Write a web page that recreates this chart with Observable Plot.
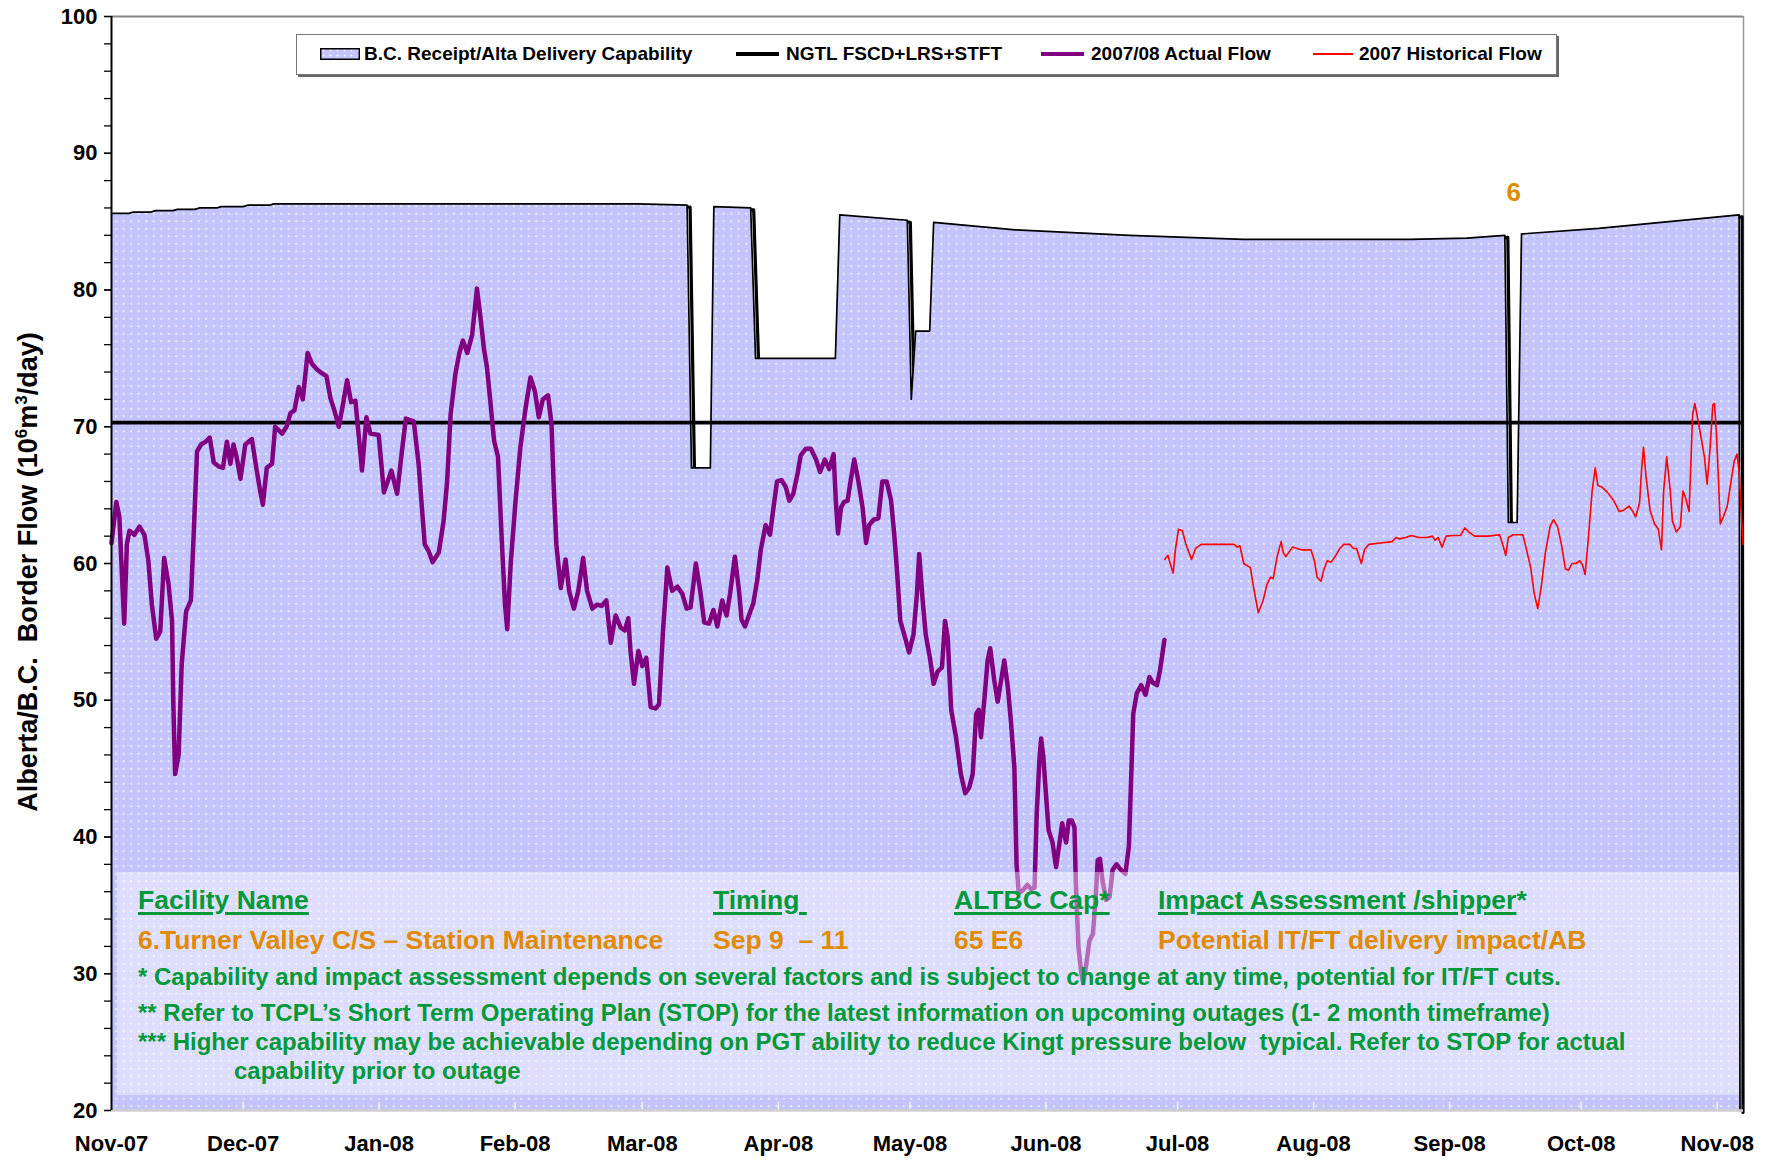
<!DOCTYPE html>
<html><head><meta charset="utf-8">
<script src="https://cdn.jsdelivr.net/npm/d3@7"></script>
<script src="https://cdn.jsdelivr.net/npm/@observablehq/plot@0.6"></script>
<style>
body{margin:0;background:#fff;font-family:"Liberation Sans",Arial,sans-serif;font-weight:bold;}
#wrap{position:relative;width:1771px;height:1160px;overflow:hidden;}
#wrap svg{position:absolute;left:0;top:0;}
.abs{position:absolute;white-space:pre;}
.legend{position:absolute;left:296px;top:34px;width:1259px;height:39px;border:1.5px solid #777;background:#fff;box-shadow:2px 2px 0 #666;}
.lt{position:absolute;font-size:19px;line-height:20px;top:44px;color:#000;}
.sw{position:absolute;}
.note{position:absolute;left:117px;top:872px;width:1622px;height:223px;background:rgba(255,255,255,0.42);}
.g{color:#00993a;}
.o{color:#e08a00;}
.u{text-decoration:underline;text-decoration-thickness:3px;text-underline-offset:3px;}
</style></head>
<body><div id="wrap"></div>
<script>
// ---- data (days since 2007-11-01, value in 10^6 m3/day) ----
const capability = [[0,85.6],[4,85.6],[5,85.7],[9,85.7],[10,85.8],[14,85.8],[15,85.9],[19,85.9],[20,86.0],[24,86.0],[25,86.1],[30,86.1],[31,86.2],[36,86.2],[37,86.3],[120,86.3],[131.2,86.2],[132.2,67],[136.5,67],[137.3,86.1],[145.7,86.0],[146.8,75],[165,75],[166,85.5],[181.4,85.1],[182.3,72],[183.3,77],[186.5,77],[187.4,84.95],[206,84.4],[232,84],[258,83.7],[296,83.7],[309,83.8],[317.6,84],[318.4,63],[320.4,63],[321.4,84.1],[339,84.5],[355,85],[371,85.5],[371.2,20]];
const ngtlCapacity = [70.3];
const actualFlow = [[0,61.5],[1.1,64.5],[1.8,63.4],[2.4,59],[2.9,55.6],[3.5,61.4],[4.1,62.4],[5.2,62.1],[6.4,62.7],[7.5,62.1],[8.4,60.2],[9.2,57],[10.2,54.5],[11.1,55],[12,60.4],[13,58.5],[13.8,55.8],[14.1,49.7],[14.5,44.6],[15.3,46],[16,52.6],[17,56.5],[18.1,57.3],[18.7,61.9],[19.5,68.2],[20.4,68.7],[21.4,68.9],[22.4,69.2],[23.3,67.4],[24.4,67.1],[25.4,67],[26.3,68.9],[27.1,67.3],[27.8,68.7],[28.5,67.8],[29.4,66.2],[30.5,68.7],[32,69.1],[33,67],[33.9,65.3],[34.5,64.3],[35.4,67],[36.6,67.3],[37.3,70],[38.9,69.5],[39.9,70],[40.8,71],[41.7,71.2],[42.7,72.9],[43.6,72],[44.7,75.4],[45.7,74.6],[46.8,74.2],[48,73.9],[49,73.7],[49.9,72.1],[50.8,71.2],[51.8,70],[52.8,71.7],[53.7,73.4],[54.6,71.8],[55.6,71.9],[56.4,69.2],[57.1,66.8],[58.1,70.7],[59,69.5],[60.9,69.4],[62.1,65.2],[63.8,66.8],[65.1,65.1],[66.2,68.2],[67.1,70.6],[68.9,70.4],[70,67.3],[70.7,64.3],[71.4,61.4],[72.3,60.9],[73.2,60.1],[74.6,60.8],[75.7,63.1],[76.5,66],[77.3,70.9],[78.4,73.9],[79.3,75.4],[80.1,76.3],[81.1,75.4],[82.2,76.7],[83.3,80.1],[84.1,78],[84.9,75.7],[85.6,74.3],[86.4,71.7],[87.2,69],[88.1,67.8],[88.9,62.1],[89.7,57],[90.2,55.2],[91,60],[92.1,64.6],[93.2,68.5],[94.4,71.4],[95.5,73.6],[96.5,72.6],[97.4,70.7],[98.3,72],[99.5,72.3],[100.3,70.2],[100.8,65.6],[101.4,61.4],[102.4,58.2],[103.5,60.3],[104.3,58],[105.4,56.7],[106.4,58],[107.5,60.4],[108.4,58],[109.6,56.7],[110.7,57],[111.7,56.9],[112.8,57.3],[113.8,54.2],[114.9,56.2],[116.1,55.3],[117,55.1],[117.8,56],[118.3,53.6],[119.1,51.2],[120.1,53.6],[121,52.5],[121.9,53.1],[122.9,49.5],[124,49.4],[124.8,49.7],[125.7,55],[126.7,59.7],[127.8,58],[129,58.3],[130.1,57.8],[131.1,56.7],[132,56.8],[133.2,60],[134.2,58],[135.1,55.7],[136.2,55.6],[137.2,56.6],[138.1,55.4],[139.2,57.3],[140.2,56.2],[141,57.8],[142.1,60.5],[143.1,57.8],[143.6,55.9],[144.4,55.4],[145.3,56.2],[146.3,57.1],[147.2,58.8],[148,61],[149.1,62.8],[150.1,62.1],[150.9,64.1],[151.7,66],[152.7,66.1],[153.7,65.6],[154.5,64.6],[155.4,65.1],[156.4,66.6],[157.1,67.9],[158.3,68.4],[159.4,68.4],[160.6,67.6],[161.5,66.7],[162.6,67.6],[163.6,66.9],[164.6,68],[165.1,64.6],[165.6,62.2],[166.3,64.1],[167,64.5],[167.8,64.6],[168.5,66.1],[169.3,67.6],[170.2,66.1],[171.2,64.1],[172,61.5],[172.7,62.8],[173.7,63.2],[174.8,63.3],[175.7,66],[176.7,66],[177.7,64.6],[178.4,62.2],[179,59.7],[179.8,55.8],[180.7,54.8],[181.8,53.5],[182.8,54.8],[183.6,57.8],[184.1,60.7],[184.9,57.3],[185.6,54.8],[186.6,53],[187.4,51.2],[188.3,52.1],[189.3,52.4],[190,55.8],[190.6,54.6],[191.4,49.3],[192.5,47.3],[193.6,44.6],[194.6,43.2],[195.5,43.6],[196.3,44.6],[197.1,49],[197.7,49.3],[198.2,47.3],[199,50.2],[199.7,52.9],[200.3,53.8],[201.2,51.5],[202,49.9],[202.8,51.5],[203.5,52.9],[204.3,51],[205,48.5],[205.8,45.1],[206.3,38],[206.8,35.9],[207.7,36.1],[208.8,36.5],[209.6,36.2],[210.4,36.3],[210.9,41.7],[211.5,45.6],[211.9,47.2],[212.4,45.9],[212.9,43.6],[213.6,40.5],[214.5,39.6],[215.3,37.8],[216.1,39.6],[216.7,41],[217.6,39.6],[218.2,41.2],[218.9,41.2],[219.5,40.7],[219.8,36.8],[220.4,32],[221,30.2],[221.5,29.3],[222.2,30.7],[222.9,32.4],[223.7,32.9],[224.3,35.4],[224.8,38.3],[225.3,38.4],[225.9,36.8],[226.7,35.4],[227.5,35.6],[228.2,37.6],[229.1,38],[230.1,37.6],[231.1,37.3],[231.9,39.3],[232.4,44.1],[232.9,49],[233.7,50.5],[234.7,51.1],[235.7,50.4],[236.6,51.7],[237.3,51.3],[238.3,51.1],[239,52.2],[240,54.4]];
const historicalFlow = [[240.1,60.3],[240.8,60.6],[241.4,59.9],[242,59.3],[242.5,61],[243.2,62.5],[244.1,62.4],[244.9,61.4],[246.2,60.3],[247.1,61.1],[248.4,61.4],[250.6,61.4],[253.3,61.4],[255.9,61.4],[256.6,61.2],[257.2,61.3],[258.1,60],[259.6,59.7],[260.3,58.3],[261.4,56.4],[262.5,57.3],[263.4,58.5],[264.2,59],[264.8,58.9],[265.7,60.5],[266.6,61.6],[267.1,60.8],[267.7,60.5],[269.2,61.2],[271.2,61],[273.4,61],[274.2,60.2],[274.8,59],[275.7,58.7],[276.3,59.5],[277.1,60.2],[278,60.1],[278.9,60.5],[280,61.1],[280.9,61.4],[282.2,61.4],[283.1,61.1],[283.8,61.1],[284.4,60.5],[284.9,60],[285.6,61],[286.6,61.4],[289.3,61.5],[291.9,61.6],[292.8,61.9],[293.6,61.8],[295,61.9],[296.3,62.05],[298,61.9],[299.8,61.9],[301.1,62],[301.7,61.7],[302.4,61.9],[303.3,61.2],[304.2,62],[305.9,62.05],[307.5,62.05],[308.5,62.6],[309.4,62.3],[310.7,62],[313.8,62],[316.4,62.1],[317.1,61.4],[317.8,60.6],[318.4,61.9],[319.5,62.1],[321.7,62.1],[322.4,61.2],[323.5,59.7],[324.3,57.8],[325.1,56.7],[325.9,58.3],[326.8,60.7],[327.9,62.7],[328.7,63.2],[329.6,62.7],[330.5,61.4],[331.4,59.6],[332.1,59.5],[332.9,60],[333.8,60],[334.7,60.2],[335.3,59.9],[335.9,59.2],[336.6,61.7],[337.5,65.3],[338.2,67],[338.8,65.7],[339.7,65.6],[341,65.2],[342.4,64.6],[343.7,63.8],[344.7,63.9],[345.9,64.2],[346.8,63.8],[347.4,63.4],[348.3,64.4],[348.8,67],[349.2,68.5],[349.8,66.3],[350.7,63.9],[351.7,62.9],[352.6,62.5],[353.3,61],[353.8,65.3],[354.5,67.8],[355.3,65.3],[355.8,63.1],[356.7,62.3],[357.6,62.7],[358.2,65.3],[358.7,64.9],[359.6,63.8],[360,67.3],[360.4,70.9],[360.9,71.7],[361.5,70.7],[362.4,69.1],[363.1,67.8],[363.7,65.8],[364.4,68.5],[365,71.6],[365.4,71.7],[365.8,69.7],[366.3,66.1],[366.7,62.9],[367.4,63.4],[368.3,64.2],[369.2,66.1],[369.9,67.5],[370.5,68],[371,66.8],[371.5,63.6],[371.9,61.4]];
const outageLabels = [{day: 319.6, value: 87.1, label: "6"}];
const monthTicks = ["2007-11-01","2007-12-01","2008-01-01","2008-02-01","2008-03-01","2008-04-01","2008-05-01","2008-06-01","2008-07-01","2008-08-01","2008-09-01","2008-10-01","2008-11-01"];
const yTicks = [20,30,40,50,60,70,80,90,100];
const yMinorTicks = d3.range(20, 101, 2);
const xEndDay = 372;

// ---- build ----
const t0 = Date.UTC(2007, 10, 1);
const toDate = d => new Date(t0 + d * 864e5);
const rows = arr => arr.map(([d, v]) => ({date: toDate(d), value: v}));
const cap = rows(capability), act = rows(actualFlow), hist = rows(historicalFlow);
const ticks = monthTicks.map(s => new Date(s + "T00:00:00Z"));
const LAV = "#c5c5fb";
const xDomain = [toDate(0), toDate(xEndDay)];
const yMin = d3.min(yTicks), yMax = d3.max(yTicks);

const chart = Plot.plot({
  width: 1771, height: 1160,
  marginLeft: 111, marginRight: 28, marginTop: 16, marginBottom: 50,
  x: {type: "utc", domain: xDomain},
  y: {domain: [yMin, yMax]},
  style: {fontFamily: "Liberation Sans, Arial, sans-serif", background: "transparent", overflow: "visible"},
  marks: [
    Plot.ruleY([yMax], {stroke: "#888", strokeWidth: 2}),
    Plot.ruleX([xDomain[1]], {stroke: "#999", strokeWidth: 1.5}),
    Plot.line(cap, {x: "date", y: "value", dx: 3, dy: 2, stroke: "#000", strokeWidth: 3.2}),
    Plot.areaY(cap, {x: "date", y1: yMin, y2: "value", fill: LAV}),
    Plot.line(cap, {x: "date", y: "value", stroke: "#000", strokeWidth: 1.7}),
    Plot.ruleX(ticks, {y1: yMin, y2: yMin + 0.6, stroke: "#fff", strokeWidth: 1.2}),
    Plot.ruleY(ngtlCapacity, {stroke: "#000", strokeWidth: 3.6}),
    Plot.line(hist, {x: "date", y: "value", stroke: "#ff0000", strokeWidth: 1.6}),
    Plot.line(act, {x: "date", y: "value", stroke: "#800080", strokeWidth: 4.5, strokeLinejoin: "round"}),
    Plot.text(outageLabels, {x: d => toDate(d.day), y: "value", text: "label", fill: "#e08a00", fontSize: 26, fontWeight: "bold"}),
    Plot.ruleY([yMin], {stroke: "#cfcfcf", strokeWidth: 2.5}),
    Plot.ruleX([xDomain[0]], {stroke: "#000", strokeWidth: 2}),
    Plot.axisY(yMinorTicks, {tickSize: 7, tickFormat: () => "", label: null, stroke: "#000", strokeWidth: 1.3}),
    Plot.axisY(yTicks, {tickSize: 7, tickPadding: 7, label: null, fontSize: 22, fontWeight: "bold", fill: "#000", stroke: "#000", strokeWidth: 1.3}),
    Plot.axisX(ticks, {tickSize: 0, tickPadding: 25, tickFormat: d3.utcFormat("%b-%y"), label: null, fontSize: 22, fontWeight: "bold", fill: "#000"})
  ]
});

const svg = d3.select(chart.tagName.toLowerCase() === "svg" ? chart : chart.querySelector("svg"));
// swap the flat lavender for a dotted pattern (done before the pattern itself exists)
svg.selectAll(`[fill="${LAV}"]`).attr("fill", "url(#dots)");
const defs = svg.insert("defs", ":first-child");
const pat = defs.append("pattern").attr("id", "dots").attr("patternUnits", "userSpaceOnUse").attr("width", 7.5).attr("height", 7.5);
pat.append("rect").attr("width", 7.5).attr("height", 7.5).attr("fill", "#C4C4FC");
pat.append("circle").attr("cx", 3.75).attr("cy", 3.75).attr("r", 1.05).attr("fill", "#fff").attr("opacity", 0.9);

// y axis title with superscripts
const yl = svg.append("text").attr("transform", "translate(37,572) rotate(-90)").attr("text-anchor", "middle")
  .attr("font-size", 27).attr("font-weight", "bold").attr("fill", "#000").style("white-space", "pre");
yl.append("tspan").text("Alberta/B.C.  Border Flow (10");
yl.append("tspan").attr("dy", -10).attr("font-size", 17).text("6");
yl.append("tspan").attr("dy", 10).text("m");
yl.append("tspan").attr("dy", -10).attr("font-size", 17).text("3");
yl.append("tspan").attr("dy", 10).text("/day)");

const wrap = document.getElementById("wrap");
wrap.appendChild(chart);

// legend
const legendItems = [
  {label: "B.C. Receipt/Alta Delivery Capability", kind: "area", sx: 320, tx: 364},
  {label: "NGTL FSCD+LRS+STFT", kind: "line", color: "#000", w: 4, sx: 736, tx: 786},
  {label: "2007/08 Actual Flow", kind: "line", color: "#800080", w: 4.5, sx: 1041, tx: 1091},
  {label: "2007 Historical Flow", kind: "line", color: "#ff0000", w: 1.6, sx: 1313, tx: 1359}
];
let html = `<div class="legend"></div>`;
for (const it of legendItems) {
  if (it.kind === "area") {
    html += `<svg class="sw" style="left:${it.sx}px;top:48px" width="40" height="12"><defs><pattern id="ldots" patternUnits="userSpaceOnUse" width="7" height="5"><rect width="7" height="5" fill="#C4C4FC"/><circle cx="3.5" cy="2.5" r="0.9" fill="#fff"/></pattern></defs><rect x="0.75" y="0.75" width="38.5" height="10.5" fill="url(#ldots)" stroke="#000" stroke-width="1.5"/></svg>`;
  } else {
    html += `<div class="sw" style="left:${it.sx}px;top:${54 - it.w/2}px;width:${it.label.startsWith("2007 ") ? 40 : 43}px;height:${it.w}px;background:${it.color}"></div>`;
  }
  html += `<div class="lt" style="left:${it.tx}px">${it.label}</div>`;
}
// note box
const noteRows = [
  {y: 900, size: 26.5, cls: "g", cells: [[138, '<span class="u">Facility Name</span>'], [713, '<span class="u">Timing </span>'], [954, '<span class="u">ALTBC Cap*</span>'], [1158, '<span class="u">Impact Assessment /shipper</span>*']]},
  {y: 940, size: 26.5, cls: "o", cells: [[138, "6.Turner Valley C/S \u2013 Station Maintenance"], [713, "Sep 9  \u2013 11"], [954, "65 E6"], [1158, "Potential IT/FT delivery impact/AB"]]},
  {y: 977, size: 24, cls: "g", cells: [[138, "* Capability and impact assessment depends on several factors and is subject to change at any time, potential for IT/FT cuts."]]},
  {y: 1013, size: 24, cls: "g", cells: [[138, "** Refer to TCPL\u2019s Short Term Operating Plan (STOP) for the latest information on upcoming outages (1- 2 month timeframe)"]]},
  {y: 1042, size: 24, cls: "g", cells: [[138, "*** Higher capability may be achievable depending on PGT ability to reduce Kingt pressure below  typical. Refer to STOP for actual"]]},
  {y: 1071, size: 24, cls: "g", cells: [[234, "capability prior to outage"]]}
];
html += `<div class="note"></div>`;
for (const r of noteRows) for (const [x, t] of r.cells) {
  html += `<div class="abs ${r.cls}" style="left:${x}px;top:${r.y - 16}px;font-size:${r.size}px;line-height:32px">${t}</div>`;
}
wrap.insertAdjacentHTML("beforeend", html);
</script>
</body></html>
